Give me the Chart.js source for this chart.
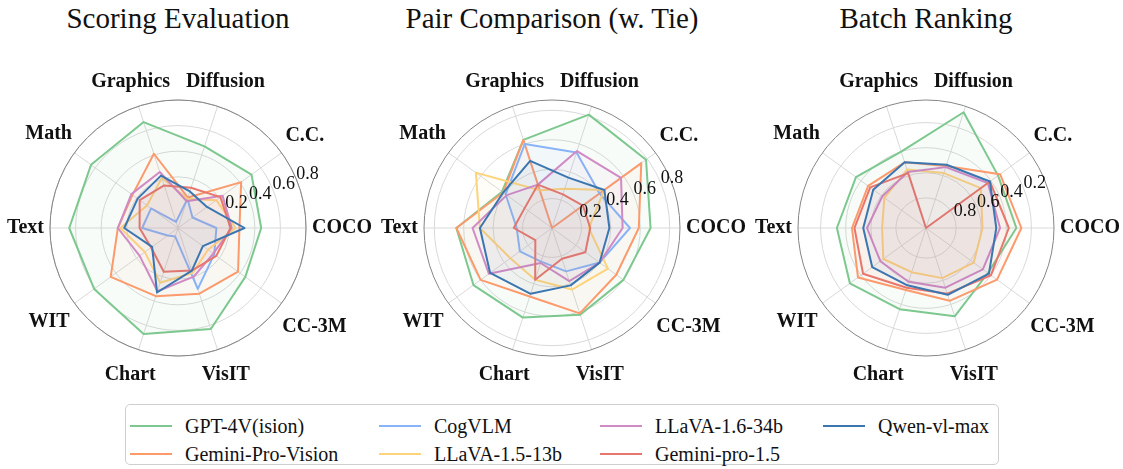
<!DOCTYPE html>
<html>
<head>
<meta charset="utf-8">
<script src="https://cdn.jsdelivr.net/npm/chart.js@4.4.1/dist/chart.umd.min.js"></script>
<style>
  body { margin: 0; background: #fff; }
  #wrap { position: relative; width: 1123px; height: 469px; overflow: hidden; font-family: "Liberation Serif", "DejaVu Serif", serif; color: #111; }
  .title { position: absolute; top: 0; width: 374px; height: 36px; line-height: 36px; font-size: 29px; text-align: center; white-space: nowrap; }
  canvas { position: absolute; top: 0; }
  #legend { position: absolute; left: 125px; top: 404px; width: 874px; height: 61px; border: 1px solid #cfcfcf; border-radius: 5px; box-sizing: border-box; }
  .item { position: absolute; font-size: 20px; line-height: 24px; white-space: nowrap; }
  .swatch { position: absolute; height: 2px; width: 42px; }
</style>
</head>
<body>
<div id="wrap">
  <div class="title" style="left:-9px">Scoring Evaluation</div>
  <div class="title" style="left:365px">Pair Comparison (w. Tie)</div>
  <div class="title" style="left:739px">Batch Ranking</div>
  <canvas id="c1" width="374" height="400" style="left:0px"></canvas>
  <canvas id="c2" width="374" height="400" style="left:374px"></canvas>
  <canvas id="c3" width="374" height="400" style="left:748px"></canvas>
  <div id="legend"></div>
</div>
<script>
// axes listed clockwise starting at the right (COCO)
const axisLabels = ['COCO', 'CC-3M', 'VisIT', 'Chart', 'WIT', 'Text', 'Math', 'Graphics', 'Diffusion', 'C.C.'];

const modelNames = ['GPT-4V(ision)', 'Gemini-Pro-Vision', 'CogVLM', 'LLaVA-1.5-13b', 'LLaVA-1.6-34b', 'Gemini-pro-1.5', 'Qwen-vl-max'];
const modelColors = ['#7cc88e', '#fc9a6c', '#88b3f7', '#fdd37c', '#d08ac4', '#e8766c', '#3b76b0'];

// Scoring Evaluation
const scoringData = [
  [0.45, 0.45, 0.63, 0.67, 0.61, 0.65, 0.64, 0.67, 0.47, 0.51],
  [0.28, 0.38, 0.34, 0.36, 0.45, 0.27, 0.24, 0.41, 0.05, 0.41],
  [0.10, 0.15, 0.30, -0.13, -0.10, 0.08, 0.06, -0.15, 0.04, -0.06],
  [0.25, 0.09, 0.17, 0.25, 0.12, 0.25, 0.10, 0.21, 0.04, 0.17],
  [0.22, 0.14, 0.20, 0.32, 0.17, 0.27, 0.25, 0.26, 0.02, 0.23],
  [0.21, 0.17, 0.15, 0.16, 0.06, 0.10, 0.17, 0.15, 0.13, 0.21],
  [0.32, 0.04, 0.15, 0.33, 0.05, 0.22, 0.19, 0.23, 0.10, 0.08]
];

// Pair Comparison (w. Tie)
const pairData = [
  [0.67, 0.60, 0.62, 0.64, 0.66, 0.65, 0.42, 0.63, 0.81, 0.79],
  [0.59, 0.54, 0.61, 0.49, 0.60, 0.65, 0.41, 0.63, 0.00, 0.75],
  [0.53, 0.40, 0.31, 0.24, 0.27, 0.24, 0.39, 0.60, 0.54, 0.40],
  [0.25, 0.47, 0.44, 0.37, 0.35, 0.49, 0.64, 0.27, 0.28, 0.44],
  [0.48, 0.40, 0.38, 0.25, 0.53, 0.54, 0.38, 0.31, 0.55, 0.58],
  [0.26, 0.28, 0.22, 0.37, 0.14, 0.26, 0.23, 0.31, 0.24, 0.26],
  [0.39, 0.40, 0.41, 0.47, 0.52, 0.49, 0.41, 0.48, 0.36, 0.44]
];

// Batch Ranking (CogVLM not reported)
const batchData = [
  [0.32, 0.43, 0.30, 0.36, 0.29, 0.33, 0.35, 0.40, 0.07, 0.33],
  [0.28, 0.34, 0.43, 0.52, 0.37, 0.45, 0.47, 0.49, 0.52, 0.31],
  [null, null, null, null, null, null, null, null, null, null],
  [0.59, 0.57, 0.62, 0.67, 0.62, 0.69, 0.63, 0.55, 0.58, 0.50],
  [0.45, 0.48, 0.54, 0.59, 0.59, 0.57, 0.61, 0.57, 0.53, 0.43],
  [0.38, 0.40, 0.49, 0.54, 0.42, 0.47, 0.49, 0.58, 1.04, 0.41],
  [0.48, 0.42, 0.48, 0.56, 0.51, 0.54, 0.52, 0.49, 0.51, 0.41]
];

const radialTicks = [0.2, 0.4, 0.6, 0.8];

function fade(hex, a) {
  const n = parseInt(hex.slice(1), 16);
  return 'rgba(' + (n >> 16) + ',' + ((n >> 8) & 255) + ',' + (n & 255) + ',' + a + ')';
}

const radarText = {
  id: 'radarText',
  beforeDatasetsDraw(chart) {
    const s = chart.scales.r;
    const ctx = chart.ctx;
    ctx.save();
    ctx.strokeStyle = '#858585';
    ctx.lineWidth = 1;
    ctx.beginPath();
    ctx.arc(s.xCenter, s.yCenter, s.drawingArea, 0, Math.PI * 2);
    ctx.stroke();
    ctx.restore();
  },
  afterDatasetsDraw(chart) {
    const s = chart.scales.r;
    const ctx = chart.ctx;
    ctx.save();
    ctx.fillStyle = '#111';

    // radial tick labels along 22.5 degrees
    ctx.font = '18px "Liberation Serif"';
    ctx.textAlign = 'left';
    ctx.textBaseline = 'alphabetic';
    const a = 22.5 * Math.PI / 180;
    radialTicks.forEach(v => {
      const d = s.getDistanceFromCenterForValue(v);
      ctx.fillText(v.toFixed(1), s.xCenter + Math.cos(a) * d, s.yCenter - Math.sin(a) * d);
    });

    // category labels, box pushed out until it clears the outer ring
    ctx.font = 'bold 20px "Liberation Serif"';
    ctx.textAlign = 'center';
    ctx.textBaseline = 'middle';
    const edge = s.drawingArea + 6;
    const above = 15, below = 12;
    chart.data.labels.forEach((lab, i) => {
      const hw = ctx.measureText(lab).width / 2;
      const u = s.getPointPosition(i, 1);
      const ux = u.x - s.xCenter, uy = u.y - s.yCenter;
      let lo = 0, hi = edge + 120;
      for (let k = 0; k < 40; k++) {
        const m = (lo + hi) / 2;
        const cx = ux * m, cy = uy * m;
        const dx = Math.max(0, Math.abs(cx) - hw);
        const dy = cy - above > 0 ? cy - above : (cy + below < 0 ? -(cy + below) : 0);
        if (Math.hypot(dx, dy) < edge) lo = m; else hi = m;
      }
      const p = s.getPointPosition(i, hi);
      ctx.fillText(lab, p.x, p.y);
    });
    ctx.restore();
  }
};

function makeRadar(id, rows, min, max, reverse) {
  const tickList = [min].concat(radialTicks, [max]);
  const datasets = [];
  rows.forEach((row, m) => {
    if (row.every(v => v === null)) return;
    datasets.push({
      label: modelNames[m],
      data: row,
      borderColor: modelColors[m],
      backgroundColor: fade(modelColors[m], 0.05),
      borderWidth: 2,
      borderJoinStyle: 'round',
      pointRadius: 0,
      pointHoverRadius: 0,
      fill: 'start',
      order: 6 - m
    });
  });

  return new Chart(document.getElementById(id), {
    type: 'radar',
    data: { labels: axisLabels, datasets: datasets },
    options: {
      responsive: false,
      animation: false,
      layout: { padding: { left: 50, right: 68, top: 100, bottom: 44 } },
      plugins: { legend: { display: false }, tooltip: { enabled: false } },
      scales: {
        r: {
          min: min,
          max: max,
          reverse: reverse,
          startAngle: 90,
          afterBuildTicks: sc => { sc.ticks = tickList.map(v => ({ value: v })); },
          ticks: { display: false },
          pointLabels: { display: false },
          grid: {
            circular: true,
            lineWidth: 1,
            color: c => radialTicks.some(v => Math.abs(v - c.tick.value) < 1e-6) ? '#d9d9d9' : 'rgba(0,0,0,0)'
          },
          angleLines: { color: '#d9d9d9', lineWidth: 1 }
        }
      }
    },
    plugins: [radarText]
  });
}

makeRadar('c1', scoringData, -0.2, 0.8, false);
makeRadar('c2', pairData, 0, 0.87, false);
makeRadar('c3', batchData, 0.02, 1.04, true);

// legend, filled column by column like the original (two rows)
const legend = document.getElementById('legend');
const colX = [4, 253, 474, 697];
const rowY = [9, 37];
modelNames.forEach((name, k) => {
  const col = Math.floor(k / 2), row = k % 2;
  const sw = document.createElement('div');
  sw.className = 'swatch';
  sw.style.background = modelColors[k];
  sw.style.left = colX[col] + 'px';
  sw.style.top = (rowY[row] + 11) + 'px';
  legend.appendChild(sw);
  const t = document.createElement('div');
  t.className = 'item';
  t.textContent = name;
  t.style.left = (colX[col] + 55) + 'px';
  t.style.top = rowY[row] + 'px';
  legend.appendChild(t);
});
</script>
</body>
</html>
